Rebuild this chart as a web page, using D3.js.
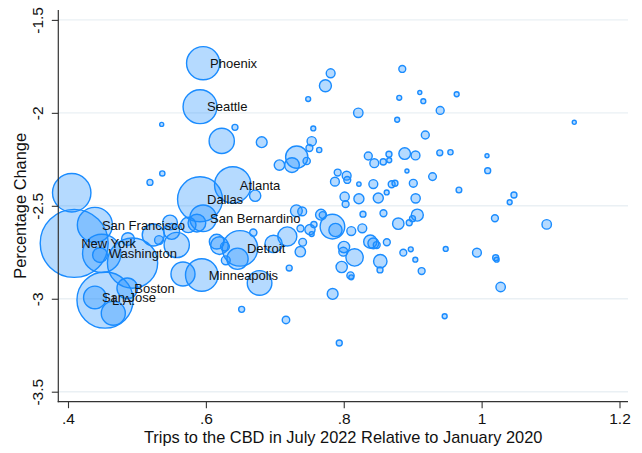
<!DOCTYPE html>
<html>
<head>
<meta charset="utf-8">
<script src="https://cdn.jsdelivr.net/npm/d3@7"></script>
<style>
  html, body { margin: 0; padding: 0; background: #fff; }
  svg { display: block; font-family: "Liberation Sans", Arial, Helvetica, sans-serif; }
</style>
</head>
<body>
<svg id="chart" width="642" height="453"></svg>
<script>
// ---------------- DATA ----------------
const cityNames = [
  "Phoenix","Seattle","Atlanta","Dallas","San Bernardino","San Francisco","New York",
  "Washington","Detroit","Minneapolis","Boston","San Jose","L.A.",
  "","","","","","","","","","","","","","","","","","","","","","","","","","","","","","",
  "","","","","","","","","","","","","","","","","","","","","","","","","","","","","","",
  "","","","","","","","","","","","","","","","","","","","","","","","","","","","","","",
  "","","","","","","","","","","","","","","","","","","","","","","","","","","","","","",
  "","","","","","","","","",""
];
// Trips to the CBD in July 2022 relative to January 2020
const tripsRatio = [
  0.596,0.5915,0.639,0.5915,0.596,0.439,0.409,0.449,0.6495,0.594,0.486,0.439,0.4537,
  0.4054,0.4936,0.4464,0.487,0.5237,0.532,0.548,0.5504,0.5577,0.5745,0.587,0.5668,0.4657,
  0.5189,0.5368,0.5359,0.623,0.6422,0.681,0.6715,0.6197,0.6157,0.6277,0.6459,0.6289,0.6688,
  0.6982,0.7181,0.737,0.7404,0.7209,0.6779,0.7839,0.6519,0.7162,0.7935,0.9464,0.7313,0.7397,
  0.7372,0.751,0.7567,0.7535,0.767,0.7694,0.7836,0.788,0.8109,0.8269,0.8279,0.8576,0.8791,
  0.895,0.8997,0.9067,0.8385,0.8429,0.8478,0.8625,0.7993,0.8003,0.8157,0.797,0.853,0.8526,
  0.8098,0.8109,0.8864,0.8972,0.9038,0.913,0.9479,0.9932,1.0204,1.0218,1.0276,1.0193,1.0944,
  1.0469,1.0407,0.9671,0.9043,0.8623,0.8501,0.822,0.8013,0.8027,0.7872,0.7912,0.8042,0.8051,
  0.822,0.8429,0.8695,0.8743,0.8917,0.9009,0.9288,0.8356,0.8443,0.8573,0.8656,0.866,0.8884,
  0.9041,0.9393,0.9548,1.0078,1.0088,0.9183,0.8775,0.9399,0.8211,0.8849,0.8805,0.9103,0.9154,
  0.9638,1.1344,0.781,0.7734,0.7484,0.7558,0.7535,0.7502,0.7318,0.7249,0.7067,0.7462,0.7644,
  0.763,0.738,0.7476,0.7583
];
// Percentage change
const pctChange = [
  -1.733,-1.967,-2.388,-2.465,-2.567,-2.603,-2.702,-2.756,-2.729,-2.872,-2.944,-2.993,-3.007,
  -2.430,-2.808,-2.765,-2.679,-2.657,-2.684,-2.590,-2.638,-2.711,-2.603,-2.593,-2.867,-3.078,
  -2.374,-2.326,-2.062,-2.151,-2.078,-2.158,-2.446,-2.714,-2.693,-2.719,-2.785,-2.793,-2.644,
  -2.705,-2.665,-2.747,-2.696,-2.835,-2.915,-2.974,-3.057,-3.114,-3.238,-3.094,-2.527,-2.530,
  -2.622,-2.628,-2.601,-2.652,-2.548,-2.550,-2.612,-2.630,-2.636,-2.621,-2.545,-2.540,-2.596,
  -2.591,-2.569,-2.550,-2.693,-2.702,-2.711,-2.696,-2.747,-2.722,-2.778,-2.829,-2.798,-2.845,
  -2.875,-2.885,-2.752,-2.734,-2.790,-2.851,-2.732,-2.752,-2.779,-2.790,-2.937,-2.567,-2.600,
  -2.442,-2.481,-2.415,-2.460,-2.428,-2.458,-2.462,-2.451,-2.491,-2.370,-2.321,-2.338,-2.361,
  -2.383,-2.383,-2.384,-2.379,-2.313,-2.379,-2.343,-2.232,-2.271,-2.264,-2.223,-2.255,-2.219,
  -2.229,-2.215,-2.212,-2.231,-2.311,-2.119,-2.037,-1.987,-2.000,-1.764,-1.919,-1.891,-1.937,
  -1.900,-2.051,-1.787,-1.854,-1.926,-2.084,-2.153,-2.189,-2.238,-2.281,-2.281,-2.259,-2.200,
  -2.322,-2.364,-2.440,-2.415
];
// Bubble weight (metro size)
const metroSize = [
  600,627,722,1086,392,670,2450,800,685,578,242,288,1682,
  800,1352,128,98,274,50,128,145,354,138,180,323,323,
  25,20,13,354,25,72,77,180,128,50,255,50,35,
  173,208,67,39,25,338,72,25,37,25,18,85,50,
  32,65,27,18,72,32,338,104,50,50,25,32,79,
  25,25,87,104,72,32,32,50,79,173,77,107,25,
  35,18,32,18,18,32,18,50,25,18,56,32,56,
  25,18,23,54,18,63,63,54,32,50,32,50,32,
  15,50,32,25,13,41,39,41,50,27,25,18,82,
  50,25,20,13,25,41,18,41,56,32,18,13,18,
  18,13,50,87,18,18,54,32,278,128,67,35,20,
  110,29,25,18
];
const xTickValues = [0.4, 0.6, 0.8, 1.0, 1.2];
const xTickLabels = [".4", ".6", ".8", "1", "1.2"];
const yTickValues = [-1.5, -2, -2.5, -3, -3.5];
const yTickLabels = ["-1.5", "-2", "-2.5", "-3", "-3.5"];
const xTitle = "Trips to the CBD in July 2022 Relative to January 2020";
const yTitle = "Percentage Change";

// ---------------- LAYOUT ----------------
const svg = d3.select("#chart");
const plotLeft = 58.3, plotRight = 628, plotTop = 10, plotBottom = 401.7;

const x = d3.scaleLinear().domain([0.4, 1.2]).range([68, 619.5]);
const y = d3.scaleLinear().domain([-1.5, -3.5]).range([19.9, 391.7]);
const r = d3.scaleSqrt().domain([0, d3.max(metroSize)]).range([0, 34.5]);

const data = cityNames.map((name, i) => ({
  name, tx: tripsRatio[i], pc: pctChange[i], size: metroSize[i]
}));

// gridlines
svg.append("g").selectAll("line")
  .data(yTickValues)
  .join("line")
  .attr("x1", plotLeft).attr("x2", plotRight)
  .attr("y1", d => y(d)).attr("y2", d => y(d))
  .attr("stroke", "#eaf0f4").attr("stroke-width", 1.4);

// bubbles
svg.append("g").selectAll("circle")
  .data(data.slice().sort((a, b) => b.size - a.size))
  .join("circle")
  .attr("cx", d => x(d.tx))
  .attr("cy", d => y(d.pc))
  .attr("r", d => Math.max(1.6, r(d.size) - 0.5))
  .attr("fill", "rgba(30,144,255,0.33)")
  .attr("stroke", "#1a8cff")
  .attr("stroke-width", 1.4);

// labels
svg.append("g").selectAll("text")
  .data(data.filter(d => d.name))
  .join("text")
  .attr("x", d => x(d.tx) + 7)
  .attr("y", d => y(d.pc) + 4.6)
  .attr("font-size", 13)
  .attr("fill", "#111")
  .text(d => d.name);

// x axis
const xAxis = svg.append("g")
  .attr("transform", `translate(0,${plotBottom})`)
  .call(d3.axisBottom(x).tickValues(xTickValues)
    .tickFormat((d, i) => xTickLabels[i]).tickSize(6.5).tickSizeOuter(0));
xAxis.select(".domain").remove();
xAxis.selectAll(".tick line").attr("stroke", "#333").attr("stroke-width", 1.1);
xAxis.selectAll(".tick text").attr("y", 22.5).attr("dy", 0)
  .attr("font-size", 15.5).attr("fill", "#111")
  .attr("font-family", "'Liberation Sans', Arial, sans-serif");
svg.append("line").attr("x1", plotLeft - 0.6).attr("x2", plotRight)
  .attr("y1", plotBottom).attr("y2", plotBottom)
  .attr("stroke", "#333").attr("stroke-width", 1.2);

// y axis
const yAxis = svg.append("g")
  .attr("transform", `translate(${plotLeft},0)`)
  .call(d3.axisLeft(y).tickValues(yTickValues)
    .tickFormat((d, i) => yTickLabels[i]).tickSize(6.5).tickSizeOuter(0));
yAxis.select(".domain").remove();
yAxis.selectAll(".tick line").attr("stroke", "#333").attr("stroke-width", 1.1);
yAxis.selectAll(".tick text")
  .attr("x", 0).attr("y", 0).attr("dy", 0)
  .attr("transform", "translate(-15,0) rotate(-90)")
  .attr("text-anchor", "middle")
  .attr("font-size", 15.5).attr("fill", "#111")
  .attr("font-family", "'Liberation Sans', Arial, sans-serif");
svg.append("line").attr("x1", plotLeft).attr("x2", plotLeft)
  .attr("y1", plotTop).attr("y2", plotBottom + 0.6)
  .attr("stroke", "#333").attr("stroke-width", 1.2);

// titles
svg.append("text")
  .attr("x", (plotLeft + plotRight) / 2).attr("y", 442.5)
  .attr("text-anchor", "middle").attr("font-size", 16.4).attr("fill", "#111")
  .text(xTitle);
svg.append("text")
  .attr("transform", `translate(26,${(plotTop + plotBottom) / 2}) rotate(-90)`)
  .attr("text-anchor", "middle").attr("font-size", 16.4).attr("fill", "#111")
  .text(yTitle);
</script>
</body>
</html>
